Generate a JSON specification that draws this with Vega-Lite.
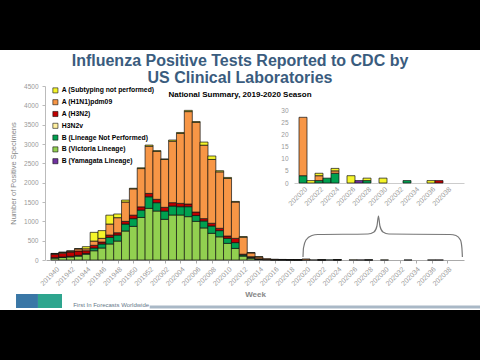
{
  "$schema": "https://vega.github.io/schema/vega-lite/v6.json",
  "width": 480,
  "height": 260,
  "autosize": "none",
  "padding": {"top": 50, "bottom": 50, "left": 0, "right": 0},
  "background": "black",
  "config": {"view": {"fill": "white", "stroke": null}, "font": "Liberation Sans", "axis": {"labelOverlap": false}},
  "title": {
    "text": ["Influenza Positive Tests Reported to CDC by", "US Clinical Laboratories"],
    "subtitle": "National Summary, 2019-2020 Season",
    "font": "Liberation Sans",
    "fontSize": 16,
    "fontWeight": "bold",
    "color": "#3a5c7e",
    "lineHeight": 17.5,
    "subtitleFont": "Liberation Sans",
    "subtitleFontSize": 8,
    "subtitleFontWeight": "bold",
    "subtitleColor": "black",
    "subtitlePadding": 5,
    "anchor": "middle",
    "frame": "group",
    "orient": "top",
    "offset": -49
  },
  "datasets": {
    "flu": [
      {"i":0,"type":"B (Victoria Lineage)","n":50},{"i":0,"type":"B (Lineage Not Performed)","n":10},{"i":0,"type":"A (H3N2)","n":90},{"i":0,"type":"A (H1N1)pdm09","n":15},{"i":0,"type":"A (Subtyping not performed)","n":5},
      {"i":1,"type":"B (Victoria Lineage)","n":65},{"i":1,"type":"B (Lineage Not Performed)","n":12},{"i":1,"type":"A (H3N2)","n":100},{"i":1,"type":"A (H1N1)pdm09","n":20},{"i":1,"type":"A (Subtyping not performed)","n":5},
      {"i":2,"type":"B (Victoria Lineage)","n":80},{"i":2,"type":"B (Lineage Not Performed)","n":15},{"i":2,"type":"A (H3N2)","n":110},{"i":2,"type":"A (H1N1)pdm09","n":25},{"i":2,"type":"A (Subtyping not performed)","n":5},
      {"i":3,"type":"B (Victoria Lineage)","n":100},{"i":3,"type":"B (Lineage Not Performed)","n":20},{"i":3,"type":"A (H3N2)","n":113},{"i":3,"type":"A (H1N1)pdm09","n":55},{"i":3,"type":"A (Subtyping not performed)","n":7},
      {"i":4,"type":"B (Victoria Lineage)","n":150},{"i":4,"type":"B (Lineage Not Performed)","n":20},{"i":4,"type":"A (H3N2)","n":70},{"i":4,"type":"A (H1N1)pdm09","n":50},{"i":4,"type":"A (Subtyping not performed)","n":55},
      {"i":5,"type":"B (Victoria Lineage)","n":240},{"i":5,"type":"B (Lineage Not Performed)","n":70},{"i":5,"type":"A (H3N2)","n":70},{"i":5,"type":"A (H1N1)pdm09","n":110},{"i":5,"type":"A (Subtyping not performed)","n":225},
      {"i":6,"type":"B (Victoria Lineage)","n":310},{"i":6,"type":"B (Lineage Not Performed)","n":105},{"i":6,"type":"A (H3N2)","n":50},{"i":6,"type":"A (H1N1)pdm09","n":95},{"i":6,"type":"A (Subtyping not performed)","n":200},
      {"i":7,"type":"B (Victoria Lineage)","n":415},{"i":7,"type":"B (Lineage Not Performed)","n":170},{"i":7,"type":"A (H3N2)","n":60},{"i":7,"type":"A (H1N1)pdm09","n":285},{"i":7,"type":"A (Subtyping not performed)","n":230},
      {"i":8,"type":"B (Victoria Lineage)","n":490},{"i":8,"type":"B (Lineage Not Performed)","n":155},{"i":8,"type":"A (H3N2)","n":60},{"i":8,"type":"A (H1N1)pdm09","n":390},{"i":8,"type":"A (Subtyping not performed)","n":95},
      {"i":9,"type":"B (Victoria Lineage)","n":750},{"i":9,"type":"B (Lineage Not Performed)","n":180},{"i":9,"type":"A (H3N2)","n":70},{"i":9,"type":"A (H1N1)pdm09","n":500},{"i":9,"type":"A (Subtyping not performed)","n":50},
      {"i":10,"type":"B (Victoria Lineage)","n":870},{"i":10,"type":"B (Lineage Not Performed)","n":200},{"i":10,"type":"A (H3N2)","n":90},{"i":10,"type":"A (H1N1)pdm09","n":680},{"i":10,"type":"A (Subtyping not performed)","n":15},
      {"i":11,"type":"B (Victoria Lineage)","n":1100},{"i":11,"type":"B (Lineage Not Performed)","n":190},{"i":11,"type":"A (H3N2)","n":85},{"i":11,"type":"A (H1N1)pdm09","n":990},{"i":11,"type":"A (Subtyping not performed)","n":20},
      {"i":12,"type":"B (Victoria Lineage)","n":1336},{"i":12,"type":"B (Lineage Not Performed)","n":300},{"i":12,"type":"A (H3N2)","n":86},{"i":12,"type":"A (H1N1)pdm09","n":1220},{"i":12,"type":"A (Subtyping not performed)","n":30},
      {"i":13,"type":"B (Victoria Lineage)","n":1267},{"i":13,"type":"B (Lineage Not Performed)","n":216},{"i":13,"type":"A (H3N2)","n":86},{"i":13,"type":"A (H1N1)pdm09","n":1240},{"i":13,"type":"A (Subtyping not performed)","n":20},
      {"i":14,"type":"B (Victoria Lineage)","n":1052},{"i":14,"type":"B (Lineage Not Performed)","n":215},{"i":14,"type":"A (H3N2)","n":95},{"i":14,"type":"A (H1N1)pdm09","n":1240},{"i":14,"type":"A (Subtyping not performed)","n":10},
      {"i":15,"type":"B (Victoria Lineage)","n":1164},{"i":15,"type":"B (Lineage Not Performed)","n":232},{"i":15,"type":"A (H3N2)","n":87},{"i":15,"type":"A (H1N1)pdm09","n":1590},{"i":15,"type":"A (Subtyping not performed)","n":30},
      {"i":16,"type":"B (Victoria Lineage)","n":1164},{"i":16,"type":"B (Lineage Not Performed)","n":215},{"i":16,"type":"A (H3N2)","n":86},{"i":16,"type":"A (H1N1)pdm09","n":1808},{"i":16,"type":"A (Subtyping not performed)","n":25},
      {"i":17,"type":"B (Victoria Lineage)","n":1121},{"i":17,"type":"B (Lineage Not Performed)","n":258},{"i":17,"type":"A (H3N2)","n":69},{"i":17,"type":"A (H1N1)pdm09","n":2390},{"i":17,"type":"A (Subtyping not performed)","n":32},
      {"i":18,"type":"B (Victoria Lineage)","n":1000},{"i":18,"type":"B (Lineage Not Performed)","n":150},{"i":18,"type":"A (H3N2)","n":90},{"i":18,"type":"A (H1N1)pdm09","n":2320},{"i":18,"type":"A (Subtyping not performed)","n":20},
      {"i":19,"type":"B (Victoria Lineage)","n":830},{"i":19,"type":"B (Lineage Not Performed)","n":180},{"i":19,"type":"A (H3N2)","n":60},{"i":19,"type":"A (H1N1)pdm09","n":1900},{"i":19,"type":"A (Subtyping not performed)","n":80},
      {"i":20,"type":"B (Victoria Lineage)","n":690},{"i":20,"type":"B (Lineage Not Performed)","n":190},{"i":20,"type":"A (H3N2)","n":70},{"i":20,"type":"A (H1N1)pdm09","n":1650},{"i":20,"type":"A (Subtyping not performed)","n":90},
      {"i":21,"type":"B (Victoria Lineage)","n":600},{"i":21,"type":"B (Lineage Not Performed)","n":160},{"i":21,"type":"A (H3N2)","n":60},{"i":21,"type":"A (H1N1)pdm09","n":1460},{"i":21,"type":"A (Subtyping not performed)","n":30},
      {"i":22,"type":"B (Victoria Lineage)","n":430},{"i":22,"type":"B (Lineage Not Performed)","n":130},{"i":22,"type":"A (H3N2)","n":60},{"i":22,"type":"A (H1N1)pdm09","n":1490},{"i":22,"type":"A (Subtyping not performed)","n":25},
      {"i":23,"type":"B (Victoria Lineage)","n":300},{"i":23,"type":"B (Lineage Not Performed)","n":150},{"i":23,"type":"A (H3N2)","n":110},{"i":23,"type":"A (H1N1)pdm09","n":940},{"i":23,"type":"A (Subtyping not performed)","n":15},
      {"i":24,"type":"B (Victoria Lineage)","n":100},{"i":24,"type":"B (Lineage Not Performed)","n":30},{"i":24,"type":"A (H3N2)","n":20},{"i":24,"type":"A (H1N1)pdm09","n":440},{"i":24,"type":"A (Subtyping not performed)","n":15},
      {"i":25,"type":"B (Victoria Lineage)","n":45},{"i":25,"type":"B (Lineage Not Performed)","n":25},{"i":25,"type":"A (H3N2)","n":15},{"i":25,"type":"A (H1N1)pdm09","n":100},{"i":25,"type":"A (Subtyping not performed)","n":5},
      {"i":26,"type":"B (Victoria Lineage)","n":15},{"i":26,"type":"B (Lineage Not Performed)","n":10},{"i":26,"type":"A (H3N2)","n":5},{"i":26,"type":"A (H1N1)pdm09","n":50},{"i":26,"type":"A (Subtyping not performed)","n":5},
      {"i":27,"type":"B (Victoria Lineage)","n":8},{"i":27,"type":"B (Lineage Not Performed)","n":5},{"i":27,"type":"A (H3N2)","n":2},{"i":27,"type":"A (H1N1)pdm09","n":20},
      {"i":28,"type":"B (Victoria Lineage)","n":5},{"i":28,"type":"B (Lineage Not Performed)","n":3},{"i":28,"type":"A (H3N2)","n":2},{"i":28,"type":"A (H1N1)pdm09","n":10},
      {"i":29,"type":"B (Victoria Lineage)","n":3},{"i":29,"type":"B (Lineage Not Performed)","n":2},{"i":29,"type":"A (H1N1)pdm09","n":8},{"i":29,"type":"A (Subtyping not performed)","n":1},
      {"i":30,"type":"B (Victoria Lineage)","n":2},{"i":30,"type":"B (Lineage Not Performed)","n":2},{"i":30,"type":"A (H1N1)pdm09","n":5},{"i":30,"type":"A (Subtyping not performed)","n":1},
      {"i":31,"type":"B (Victoria Lineage)","n":2},{"i":31,"type":"B (Lineage Not Performed)","n":1},{"i":31,"type":"A (H1N1)pdm09","n":4},{"i":31,"type":"A (Subtyping not performed)","n":1},
      {"i":32,"type":"B (Lineage Not Performed)","n":3},{"i":32,"type":"A (H1N1)pdm09","n":24},
      {"i":33,"type":"A (Subtyping not performed)","n":1},
      {"i":34,"type":"B (Lineage Not Performed)","n":1},{"i":34,"type":"A (H1N1)pdm09","n":2},{"i":34,"type":"A (Subtyping not performed)","n":1},
      {"i":35,"type":"B (Lineage Not Performed)","n":2},
      {"i":36,"type":"B (Lineage Not Performed)","n":4},{"i":36,"type":"A (H1N1)pdm09","n":1},{"i":36,"type":"A (Subtyping not performed)","n":1},
      {"i":38,"type":"A (Subtyping not performed)","n":3},
      {"i":39,"type":"B (Yamagata Lineage)","n":1},
      {"i":40,"type":"B (Lineage Not Performed)","n":1},{"i":40,"type":"A (Subtyping not performed)","n":1},
      {"i":42,"type":"A (Subtyping not performed)","n":2},
      {"i":45,"type":"B (Lineage Not Performed)","n":1},
      {"i":48,"type":"A (Subtyping not performed)","n":1},
      {"i":49,"type":"A (H3N2)","n":1}
    ],
    "brace": [
      {"i":31.47,"n":78},{"i":31.53,"n":310},{"i":31.84,"n":517},{"i":32.58,"n":634},{"i":33.33,"n":659},
      {"i":39.55,"n":672},{"i":40.3,"n":724},{"i":40.67,"n":879},{"i":40.86,"n":1138},{"i":41.04,"n":879},
      {"i":41.42,"n":724},{"i":42.16,"n":672},{"i":49.75,"n":659},{"i":50.5,"n":634},{"i":51.06,"n":517},
      {"i":51.24,"n":310},{"i":51.3,"n":78}
    ]
  },
  "layer": [
    {
      "data": {"name": "flu"},
      "transform": [
        {"calculate": "indexof(['B (Yamagata Lineage)','B (Victoria Lineage)','B (Lineage Not Performed)','H3N2v','A (H3N2)','A (H1N1)pdm09','A (Subtyping not performed)'], datum.type)", "as": "rank"}
      ],
      "mark": {"type": "bar", "width": 8, "stroke": "#111", "strokeWidth": 0.7},
      "encoding": {
        "x": {
          "field": "i", "type": "quantitative",
          "scale": {"domain": [-0.5, 51.5], "range": [46, 464], "nice": false, "zero": false},
          "axis": {
            "orient": "bottom", "offset": -50, "values": [0,2,4,6,8,10,12,14,16,18,20,22,24,26,28,30,32,34,36,38,40,42,44,46,48,50],
            "labelExpr": "datum.value < 13 ? '' + (201940 + datum.value) : '' + (201988 + datum.value)",
            "labelOverlap": false, "labelBound": false, "labelFlush": false,
            "labelAngle": -45, "labelFontSize": 7, "labelColor": "#999", "labelPadding": 2,
            "domainColor": "#aaa", "tickColor": "#aaa", "tickSize": 3, "grid": false,
            "title": "Week", "titleFontSize": 8, "titleColor": "#888", "titleFontWeight": "bold", "titlePadding": 4
          }
        },
        "y": {
          "field": "n", "type": "quantitative", "stack": "zero",
          "scale": {"domain": [0, 4500], "range": [210, 36], "nice": false},
          "axis": {
            "orient": "left", "offset": -45, "values": [0,500,1000,1500,2000,2500,3000,3500,4000,4500], "format": "d",
            "labelOverlap": false,
            "labelFontSize": 6.5, "labelColor": "#999", "labelPadding": 4,
            "domainColor": "#bbb", "tickColor": "#bbb", "tickSize": 3, "grid": false,
            "title": "Number of Positive Specimens", "titleFontSize": 7.5, "titleColor": "#888", "titleFontWeight": "normal", "titlePadding": 6
          }
        },
        "color": {
          "field": "type", "type": "nominal",
          "scale": {
            "domain": ["A (Subtyping not performed)","A (H1N1)pdm09","A (H3N2)","H3N2v","B (Lineage Not Performed)","B (Victoria Lineage)","B (Yamagata Lineage)"],
            "range": ["#F5F52A","#F79646","#C00000","#FFF0A0","#00A050","#92D050","#7030A0"]
          },
          "legend": {
            "orient": "none", "legendX": 52, "legendY": 37, "title": null,
            "symbolType": "square", "symbolSize": 26, "symbolStrokeColor": "#444", "symbolStrokeWidth": 0.6, "symbolOpacity": 1,
            "labelFontSize": 6.8, "labelFontWeight": "bold", "labelColor": "black", "rowPadding": 2.8, "labelOffset": 3
          }
        },
        "order": {"field": "rank", "type": "quantitative"}
      }
    },
    {
      "layer": [
        {
          "data": {"name": "brace"},
          "mark": {"type": "line", "interpolate": "monotone", "color": "#777", "strokeWidth": 1.2},
          "encoding": {
            "x": {"field": "i", "type": "quantitative", "scale": {"domain": [-0.5, 51.5], "range": [46, 464], "nice": false, "zero": false}, "axis": null},
            "y": {"field": "n", "type": "quantitative", "scale": {"domain": [0, 4500], "range": [210, 36], "nice": false}, "axis": null}
          }
        },
        {
          "data": {"values": [{"i": 7.6, "n": -1165, "label": "First In Forecasts Worldwide"}]},
          "mark": {"type": "text", "fontSize": 6, "color": "#667788"},
          "encoding": {
            "x": {"field": "i", "type": "quantitative", "axis": null},
            "y": {"field": "n", "type": "quantitative", "axis": null},
            "text": {"field": "label"}
          }
        },
        {
          "data": {"values": [{"i": 12.4, "i2": 53.5, "n": -1215}]},
          "mark": {"type": "rule", "color": "#a9b8c6", "strokeWidth": 3},
          "encoding": {
            "x": {"field": "i", "type": "quantitative", "axis": null},
            "x2": {"field": "i2"},
            "y": {"field": "n", "type": "quantitative", "axis": null}
          }
        },
        {
          "data": {"values": [{"i": -4.23, "i2": -1.5, "n": -879, "n2": -1241, "part": "left"}, {"i": -1.5, "i2": 1.49, "n": -879, "n2": -1241, "part": "right"}]},
          "mark": {"type": "rect"},
          "encoding": {
            "x": {"field": "i", "type": "quantitative", "axis": null},
            "x2": {"field": "i2"},
            "y": {"field": "n", "type": "quantitative", "axis": null},
            "y2": {"field": "n2"},
            "fill": {"field": "part", "type": "nominal", "scale": {"domain": ["left", "right"], "range": ["#3a77a6", "#2ea58e"]}, "legend": null}
          }
        }
      ]
    },
    {
      "data": {"name": "flu"},
      "transform": [
        {"filter": "datum.i >= 32"},
        {"calculate": "indexof(['B (Yamagata Lineage)','B (Victoria Lineage)','B (Lineage Not Performed)','H3N2v','A (H3N2)','A (H1N1)pdm09','A (Subtyping not performed)'], datum.type)", "as": "rank"}
      ],
      "mark": {"type": "bar", "width": 8, "stroke": "#111", "strokeWidth": 0.7},
      "encoding": {
        "x": {
          "field": "i", "type": "quantitative",
          "scale": {"domain": [31.5, 51.5], "range": [294, 464], "nice": false, "zero": false},
          "axis": {
            "orient": "bottom", "offset": -127, "values": [32,34,36,38,40,42,44,46,48,50],
            "labelExpr": "'' + (201988 + datum.value)",
            "labelOverlap": false, "labelBound": false,
            "labelAngle": -45, "labelFontSize": 7, "labelColor": "#999", "labelPadding": 2,
            "domainColor": "#ccc", "ticks": false, "grid": false, "title": null
          }
        },
        "y": {
          "field": "n", "type": "quantitative", "stack": "zero",
          "scale": {"domain": [0, 30], "range": [133, 60], "nice": false},
          "axis": {
            "orient": "left", "offset": -292, "values": [0,5,10,15,20,25,30],
            "labelOverlap": false,
            "labelFontSize": 6.5, "labelColor": "#999", "labelPadding": 4,
            "domain": false, "ticks": false, "grid": false, "title": null
          }
        },
        "color": {"field": "type", "type": "nominal"},
        "order": {"field": "rank", "type": "quantitative"}
      }
    }
  ],
  "resolve": {"scale": {"x": "independent", "y": "independent"}, "axis": {"x": "independent", "y": "independent"}}
}
